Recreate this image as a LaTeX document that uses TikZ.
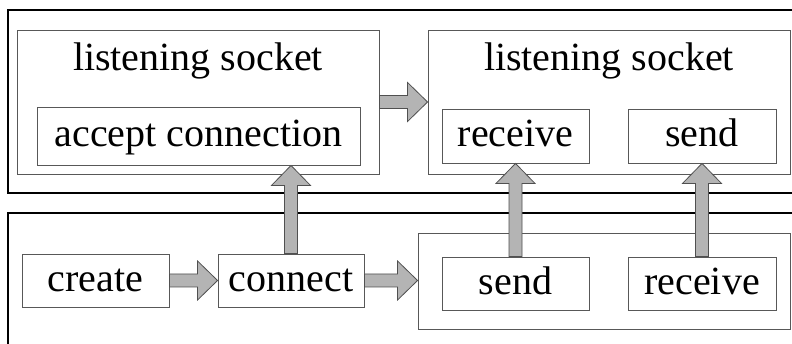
\documentclass[tikz,border=0pt]{standalone}
\usepackage{fontspec}
\setmainfont{Liberation Serif}
\usetikzlibrary{calc}
\definecolor{arrowgray}{HTML}{B4B4B4}
\definecolor{arrowline}{HTML}{505050}
\definecolor{boxline}{HTML}{585858}
\tikzset{
  outerbox/.style={draw=black, line width=1.5pt},
  innerbox/.style={draw=boxline, line width=0.9pt, inner sep=0pt,
    font=\fontsize{40}{48}\selectfont, text height=30pt, text depth=8pt},
  labeltext/.style={font=\fontsize{40}{48}\selectfont, anchor=base, inner sep=0pt},
  fatarrow/.style={fill=arrowgray, draw=arrowline, line width=0.8pt, line join=miter}
}
\newcommand\harrow[2]{%
  \path[fatarrow] let \p1=(#1), \p2=(#2) in
    (\x1,{\y1-6.5pt}) -- ({\x2-20pt},{\y1-6.5pt}) -- ({\x2-20pt},{\y1-19.5pt}) --
    (\x2,\y1) -- ({\x2-20pt},{\y1+19.5pt}) -- ({\x2-20pt},{\y1+6.5pt}) --
    (\x1,{\y1+6.5pt}) -- cycle;}
\newcommand\varrow[2]{%
  \path[fatarrow] let \p1=(#1), \p2=(#2) in
    ({\x1-6.5pt},\y1) -- ({\x1-6.5pt},{\y2-20pt}) -- ({\x1-19.5pt},{\y2-20pt}) --
    (\x1,\y2) -- ({\x1+19.5pt},{\y2-20pt}) -- ({\x1+6.5pt},{\y2-20pt}) --
    ({\x1+6.5pt},\y1) -- cycle;}
\begin{document}
\begin{tikzpicture}[x=1pt,y=-1pt]
\useasboundingbox (0,0) rectangle (792,344);
\fill[white] (0,0) rectangle (792,344);
\clip (0,0) rectangle (792,344);

% outer regions
\draw[outerbox] (8,10) rectangle (805,193);
\draw[outerbox] (8,213) rectangle (805,360);

% top: listening sockets
\node[innerbox, minimum width=362pt, minimum height=144pt] (lsockA) at (198,102) {};
\node[labeltext] (lsockAlabel) at (198,71) {listening socket};
\node[innerbox, minimum width=323pt, minimum height=58pt] (accept) at (198.5,136) {accept connection};

\node[innerbox, minimum width=362pt, minimum height=144pt] (lsockB) at (609,102) {};
\node[labeltext] (lsockBlabel) at (609,71) {listening socket};
\node[innerbox, minimum width=147pt, minimum height=54pt] (recvA) at (515.5,136) {receive};
\node[innerbox, minimum width=148pt, minimum height=54pt] (sendA) at (702,136) {send};

% bottom: client
\node[innerbox, minimum width=147pt, minimum height=53pt] (create) at (95.5,280.5) {create};
\node[innerbox, minimum width=146pt, minimum height=53pt] (connect) at (291,280.5) {connect};
\node[innerbox, minimum width=372pt, minimum height=96pt] (cont) at (604,281) {};
\node[innerbox, minimum width=147pt, minimum height=53pt] (sendB) at (515.5,283.5) {send};
\node[innerbox, minimum width=148pt, minimum height=53pt] (recvB) at (702,283.5) {receive};

% arrows
\harrow{create.east}{connect.west}
\harrow{connect.east}{cont.west}
\harrow{lsockA.east}{lsockB.west}
\varrow{connect.north}{accept.south}
\varrow{sendB.north}{recvA.south}
\varrow{recvB.north}{sendA.south}
\end{tikzpicture}
\end{document}
